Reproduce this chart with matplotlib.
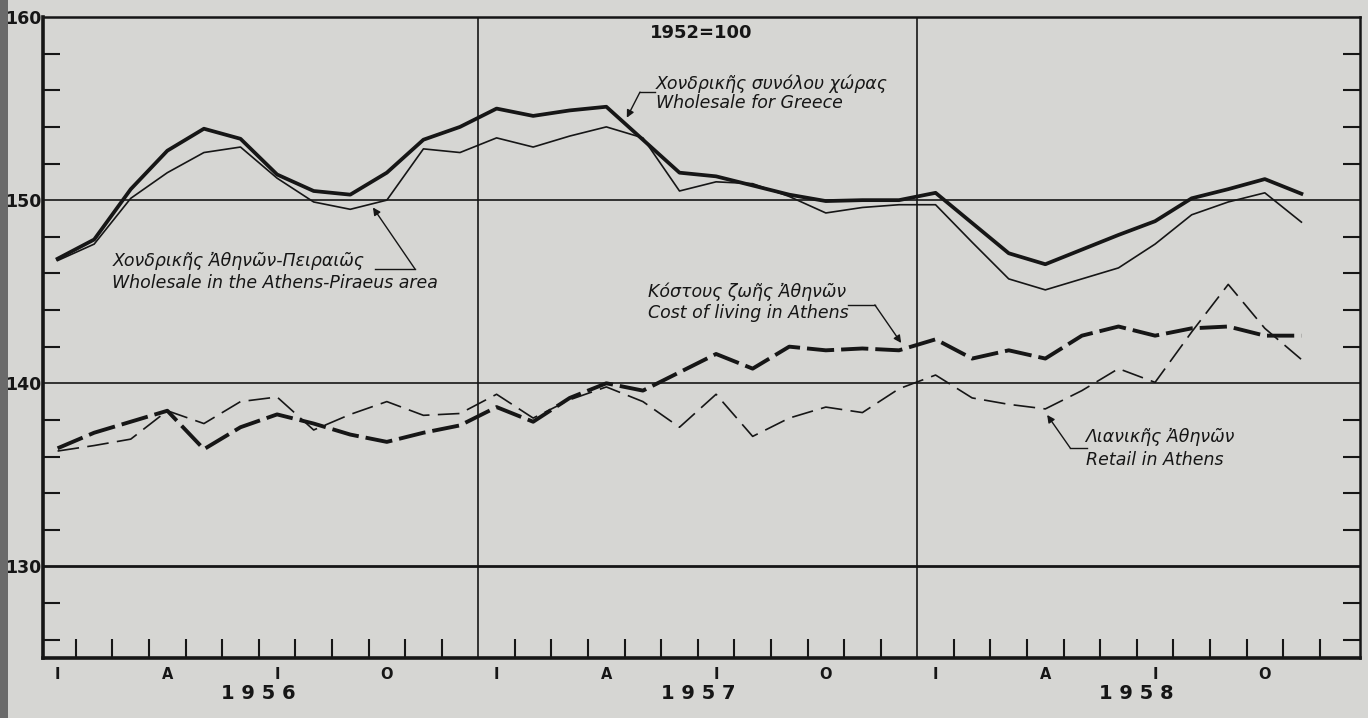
import matplotlib.pyplot as plt
from matplotlib.patches import Rectangle
import numpy as np

# monthly index numbers 1952=100, Jan 1956 .. Nov 1958
years = ['1 9 5 6', '1 9 5 7', '1 9 5 8']
month_letters = ['I', 'A', 'I', 'O']

wholesale_greece = [146.8, 147.85, 150.6, 152.7, 153.9, 153.35, 151.4, 150.5, 150.3, 151.5, 153.3, 154.0,
                    155.0, 154.6, 154.9, 155.1, 153.3, 151.5, 151.3, 150.8, 150.3, 149.95, 150.0, 150.0,
                    150.4, 148.75, 147.1, 146.5, 147.3, 148.1, 148.85, 150.1, 150.6, 151.15, 150.35]
wholesale_athens = [146.7, 147.6, 150.1, 151.5, 152.6, 152.9, 151.2, 149.9, 149.5, 150.0, 152.8, 152.6,
                    153.4, 152.9, 153.5, 154.0, 153.4, 150.5, 151.0, 150.9, 150.2, 149.3, 149.6, 149.75,
                    149.75, 147.7, 145.7, 145.1, 145.7, 146.3, 147.6, 149.2, 149.9, 150.4, 148.8]
cost_of_living = [136.45, 137.3, 137.9, 138.5, 136.4, 137.6, 138.3, 137.8, 137.2, 136.8, 137.3, 137.7,
                  138.7, 137.9, 139.2, 140.0, 139.6, 140.6, 141.6, 140.8, 142.0, 141.8, 141.9, 141.8,
                  142.4, 141.35, 141.8, 141.35, 142.6, 143.1, 142.6, 143.0, 143.1, 142.6, 142.6]
retail_athens = [136.3, 136.6, 136.95, 138.5, 137.8, 139.0, 139.25, 137.45, 138.3, 139.0, 138.25, 138.35,
                 139.4, 138.1, 139.1, 139.8, 139.0, 137.6, 139.4, 137.1, 138.1, 138.7, 138.4, 139.7,
                 140.45, 139.2, 138.85, 138.6, 139.6, 140.8, 140.05, 142.8, 145.4, 143.0, 141.3]

paper = '#d6d6d3'
ink = '#161616'

fig = plt.figure(figsize=(13.68, 7.18), dpi=100, facecolor=paper)
ax = fig.add_axes([0.0314, 0.0836, 0.9627, 0.8927])
ax.set_facecolor(paper)

x = np.arange(len(wholesale_greece)) + 0.5

ax.plot(x, wholesale_greece, color=ink, lw=2.7, solid_joinstyle='round', zorder=4)
ax.plot(x, wholesale_athens, color=ink, lw=1.2, zorder=4)
ax.plot(x, cost_of_living, color=ink, lw=2.8, dashes=(7, 1.8), zorder=4)
ax.plot(x, retail_athens, color=ink, lw=1.2, dashes=(13, 5), zorder=4)

ax.set_xlim(0.1, 36.1)
ax.set_ylim(125, 160)

# grid: horizontal every 10, vertical at year boundaries
for v in [150, 140]:
    ax.axhline(v, color=ink, lw=1.2, zorder=2)
ax.axhline(130, color=ink, lw=2.0, zorder=2)
for b in [12, 24]:
    ax.axvline(b, color=ink, lw=1.2, zorder=2)

for s in ['left', 'bottom']:
    ax.spines[s].set_linewidth(2.6)
for s in ['top', 'right']:
    ax.spines[s].set_linewidth(1.8)
for s in ax.spines.values():
    s.set_color(ink)

# ticks
ax.set_yticks([130, 140, 150, 160])
ax.set_yticklabels(['130', '140', '150', '160'], fontsize=12.5, fontweight='bold', color=ink)
ax.set_yticks([v for v in range(126, 160, 2) if v % 10 != 0], minor=True)
ax.tick_params(axis='y', which='major', length=0, pad=1)
ax.tick_params(axis='y', which='minor', direction='in', length=12, width=1.5,
               left=True, right=True, color=ink)
ax.set_xticks([b for b in range(1, 36) if b not in (12, 24)], minor=True)
ax.set_xticks([])
ax.tick_params(axis='x', which='minor', direction='in', length=14, width=1.5, color=ink, bottom=True)

# month letters and years under the axis
for yr in range(3):
    for i, letter in enumerate(month_letters):
        ax.text(yr * 12 + i * 3 + 0.5, 124.1, letter, ha='center', va='center',
                fontsize=10.5, fontweight='bold', color=ink)
    ax.text(yr * 12 + 6, 123.05, years[yr], ha='center', va='center',
            fontsize=14, fontweight='bold', color=ink)

ax.text(18.1, 159.1, '1952=100', ha='center', va='center', fontsize=13,
        fontweight='bold', color=ink)

# labels with leader arrows
ann = dict(fontsize=12.5, style='italic', color=ink, va='center', ha='left')
arrow = dict(arrowstyle='-|>', color=ink, lw=1.0, mutation_scale=11, shrinkA=0, shrinkB=0)

ax.text(16.86, 156.35, 'Χονδρικῆς συνόλου χώρας', **ann)
ax.text(16.86, 155.3, 'Wholesale for Greece', **ann)
ax.plot([16.83, 16.42], [155.9, 155.9], color=ink, lw=1.0)
ax.annotate('', xy=(16.06, 154.5), xytext=(16.42, 155.9), arrowprops=arrow)

ax.text(2.0, 146.68, 'Χονδρικῆς Ἀθηνῶν-Πειραιῶς', **ann)
ax.text(2.0, 145.48, 'Wholesale in the Athens-Piraeus area', **ann)
ax.plot([9.18, 10.27], [146.24, 146.24], color=ink, lw=1.0)
ax.annotate('', xy=(9.12, 149.6), xytext=(10.27, 146.24), arrowprops=arrow)

ax.text(16.64, 144.98, 'Κόστους ζωῆς Ἀθηνῶν', **ann)
ax.text(16.64, 143.83, 'Cost of living in Athens', **ann)
ax.plot([22.11, 22.84], [144.28, 144.28], color=ink, lw=1.0)
ax.annotate('', xy=(23.56, 142.2), xytext=(22.84, 144.28), arrowprops=arrow)

ax.text(28.6, 137.07, 'Λιανικῆς Ἀθηνῶν', **ann)
ax.text(28.6, 135.82, 'Retail in Athens', **ann)
ax.plot([28.64, 28.18], [136.47, 136.47], color=ink, lw=1.0)
ax.annotate('', xy=(27.55, 138.27), xytext=(28.18, 136.47), arrowprops=arrow)

# dark scan edge on the left
fig.patches.append(Rectangle((0, 0), 0.006, 1, transform=fig.transFigure,
                             facecolor='#6a6a6a', edgecolor='none'))

fig.savefig('out.png', dpi=100, facecolor=paper)
